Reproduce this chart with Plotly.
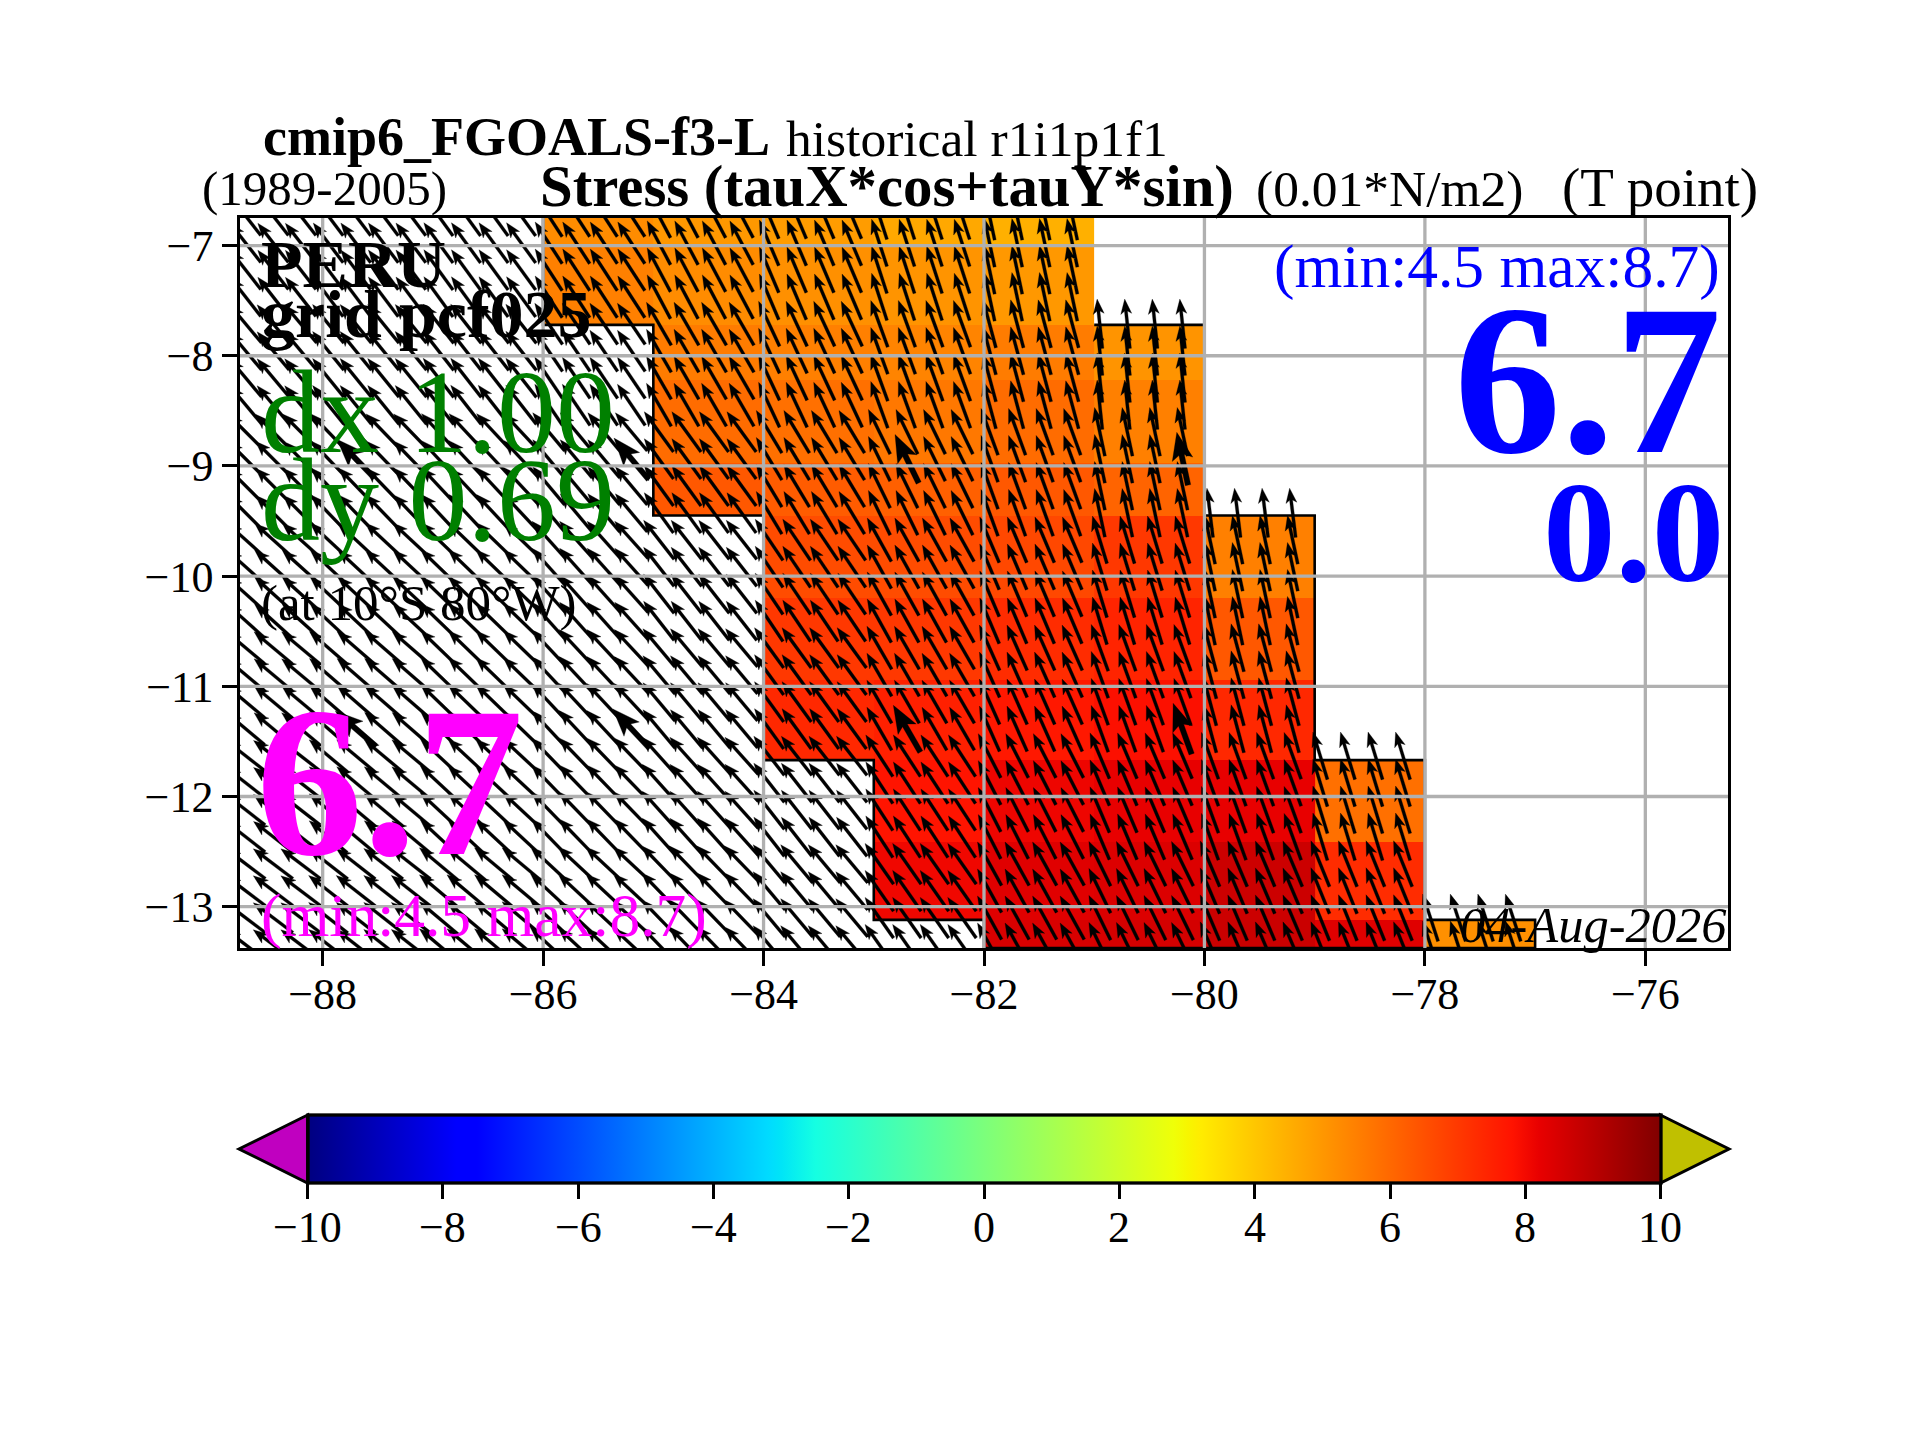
import numpy as np
import plotly.graph_objects as go

# ---------- data ----------
x_ticks = [-88, -86, -84, -82, -80, -78, -76]
y_ticks = [-13, -12, -11, -10, -9, -8, -7]
cbar_ticks = [-10, -8, -6, -4, -2, 0, 2, 4, 6, 8, 10]

cell_lon_edges = [-86, -85, -84, -83, -82, -81, -80, -79, -78, -77]
cell_lat_edges = [-6.75, -7.0, -7.72, -8.22, -8.97, -9.45, -10.20, -10.94, -11.67, -12.41, -13.12, -13.375]
N = None
# stress magnitude per cell, rows north -> south, columns west -> east
stress = [
    [5.24, 4.98, 4.90, 4.64, 4.47, N, N, N, N],
    [5.49, 5.24, 5.15, 5.07, 4.98, N, N, N, N],
    [N, 5.57, 5.49, 5.40, 5.57, 5.07, N, N, N],
    [N, 5.91, 5.83, 5.66, 5.91, 5.49, N, N, N],
    [N, 6.34, 6.25, 6.17, 6.34, 6.08, N, N, N],
    [N, N, 6.59, 6.59, 6.68, 7.01, 5.49, N, N],
    [N, N, 7.01, 7.01, 7.27, 7.44, 6.34, N, N],
    [N, N, 7.35, 7.52, 7.69, 7.86, 7.35, N, N],
    [N, N, N, 7.78, 8.10, 8.20, 8.20, 5.83, N],
    [N, N, N, 8.06, 8.34, 8.40, 8.68, 7.27, N],
    [N, N, N, N, 8.47, 8.55, 8.72, 8.34, 5.15],
]
# limits of the ocean cells per column (northern and southern)
col_north = [-6.75, -6.75, -6.75, -6.75, -6.75, -7.72, -9.45, -11.67, -13.12]
col_south = [-7.72, -9.45, -11.67, -13.12, -13.375, -13.375, -13.375, -13.375, -13.375]

# wind-stress direction, degrees west of north, by 1 degree block
angle_lon_centres = [-88.5, -87.5, -86.5, -85.5, -84.5, -83.5, -82.5, -81.5, -80.5, -79.5, -78.5, -77.5]
angle_lat_centres = [-7, -8, -9, -10, -11, -12, -13]
angle_deg = [
    [38, 37, 36, 33, 28, 23, 18, 12, 5, 5, 5, 5],
    [40, 39, 38, 34, 30, 25, 20, 15, 6, 5, 5, 5],
    [45, 44, 43, 40, 36, 31, 26, 20, 12, 7, 7, 7],
    [48, 47, 46, 42, 38, 34, 29, 23, 17, 12, 12, 12],
    [50, 49, 46, 43, 40, 36, 30, 24, 20, 15, 15, 15],
    [52, 50, 47, 44, 42, 38, 33, 27, 23, 20, 17, 17],
    [53, 52, 50, 47, 44, 40, 35, 29, 26, 23, 22, 18],
]
# sampling positions of the arrows (middle of each arrow)
arrow_lon_first, arrow_lon_step, arrow_lon_count = -88.95, 0.25, 48
arrow_lat_first, arrow_lat_step, arrow_lat_count = -6.485, -0.245, 30

title_bold = "cmip6_FGOALS-f3-L"
title_rest = "historical r1i1p1f1"

# ---------- figure geometry ----------
W, H = 1920, 1440
AX_L, AX_R, AX_T, AX_B = 240, 1728, 218, 948
LON_RANGE = [-88.75, -75.25]
LAT_RANGE = [-13.375, -6.75]
CB_L, CB_R, CB_T, CB_B = 307.6, 1660.4, 1115, 1183
FONT = "Liberation Serif"


def px(x):
    return x / W


def py(y):
    return 1 - y / H


# jet colour ramp
red = [(0, 0), (0.35, 0), (0.66, 1), (0.89, 1), (1, 0.5)]
green = [(0, 0), (0.125, 0), (0.375, 1), (0.64, 1), (0.91, 0), (1, 0)]
blue = [(0, 0.5), (0.11, 1), (0.34, 1), (0.65, 0), (1, 0)]
stops = sorted({p for seg in (red, green, blue) for p, _ in seg})


def chan(seg, p):
    return np.interp(p, [a for a, _ in seg], [b for _, b in seg])


jet = [[p, "rgb(%d,%d,%d)" % (round(255 * chan(red, p)), round(255 * chan(green, p)), round(255 * chan(blue, p)))]
       for p in stops]

fig = go.Figure()

fig.add_trace(go.Heatmap(
    x=cell_lon_edges, y=cell_lat_edges, z=stress, zmin=-10, zmax=10,
    colorscale=jet, hoverinfo="skip", xgap=0, ygap=0,
    colorbar=dict(
        orientation="h", x=px(CB_L), xanchor="left", y=py(CB_T), yanchor="top",
        xref="paper", yref="paper",
        len=CB_R - CB_L, lenmode="pixels", thickness=CB_B - CB_T, thicknessmode="pixels",
        xpad=0, ypad=0, outlinecolor="black", outlinewidth=3.3,
        tickmode="array", tickvals=cbar_ticks, ticks="outside", ticklen=14.6, tickwidth=2.6,
        tickcolor="black", showticklabels=False,
    ),
))

# coast outline from the column limits
ox, oy = [cell_lon_edges[0]], [col_north[0]]
for i, s in enumerate(col_south):
    ox += [cell_lon_edges[i], cell_lon_edges[i + 1]]
    oy += [s, s]
for i in range(len(col_north) - 1, 4, -1):
    ox += [cell_lon_edges[i + 1], cell_lon_edges[i]]
    oy += [col_north[i], col_north[i]]
fig.add_trace(go.Scatter(x=ox, y=oy, mode="lines", line=dict(color="black", width=2.6), hoverinfo="skip"))


# arrows
def arrow_polygon(mx, my, ang, length, shaft, head_w, head_l, notch):
    a = np.radians(ang)
    ux, uy = -np.sin(a), np.cos(a)       # along the arrow
    nx, ny = uy, -ux                     # across it
    pts = [(-length / 2, shaft / 2), (length / 2 - notch, shaft / 2), (length / 2 - head_l, head_w / 2),
           (length / 2, 0), (length / 2 - head_l, -head_w / 2), (length / 2 - notch, -shaft / 2),
           (-length / 2, -shaft / 2), (-length / 2, shaft / 2)]
    return [mx + p * ux + q * nx for p, q in pts], [my + p * uy + q * ny for p, q in pts]


def north_limit(lon):
    if lon < -81 or lon >= -77:
        return None if lon < -81 else -99
    i = int(np.floor(lon)) - cell_lon_edges[0]
    return col_north[i]


ax_, ay_, bx_, by_ = [], [], [], []
for i in range(arrow_lon_count):
    lon = arrow_lon_first + i * arrow_lon_step
    lim = north_limit(lon)
    ci = int(np.argmin(np.abs(np.array(angle_lon_centres) - lon)))
    for j in range(arrow_lat_count):
        lat = arrow_lat_first + j * arrow_lat_step
        if lim is not None and lat > lim + 0.1:
            continue
        rj = int(np.argmin(np.abs(np.array(angle_lat_centres) - lat)))
        ang = angle_deg[rj][ci]
        if (i % 10 == 5) and (j in (10, 20)):
            xs, ys = arrow_polygon(lon, lat, ang, 0.49, 0.05, 0.19, 0.25, 0.21)
            bx_ += xs + [None]
            by_ += ys + [None]
        else:
            xs, ys = arrow_polygon(lon, lat, ang, 0.45, 0.028, 0.1, 0.135, 0.11)
            ax_ += xs + [None]
            ay_ += ys + [None]
for xs, ys in ((ax_, ay_), (bx_, by_)):
    fig.add_trace(go.Scatter(x=xs, y=ys, mode="lines", fill="toself", fillcolor="black",
                             line=dict(color="black", width=0.3), hoverinfo="skip"))

# grid above the arrows
gx, gy = [], []
for t in x_ticks:
    gx += [t, t, None]
    gy += [LAT_RANGE[0], LAT_RANGE[1], None]
for t in y_ticks:
    gx += [LON_RANGE[0], LON_RANGE[1], None]
    gy += [t, t, None]
fig.add_trace(go.Scatter(x=gx, y=gy, mode="lines", line=dict(color="#b0b0b0", width=3.3), hoverinfo="skip"))

axis_common = dict(
    showgrid=False, zeroline=False, showline=True, linecolor="black", linewidth=3.3, mirror=True,
    ticks="outside", ticklen=14.6, tickwidth=3.3, tickcolor="black", tickmode="array",
    tickfont=dict(family=FONT, size=44, color="black"),
)
fig.update_xaxes(range=LON_RANGE, domain=[px(AX_L), px(AX_R)], tickvals=x_ticks, ticklabelstandoff=-10, **axis_common)
fig.update_yaxes(range=LAT_RANGE, domain=[py(AX_B), py(AX_T)], tickvals=y_ticks, **axis_common)


def label(text, x, base, size, color="black", anchor="left"):
    fig.add_annotation(
        text=text, xref="paper", yref="paper", x=px(x), y=py(base + 3 + 0.19 * size),
        xanchor=anchor, yanchor="bottom", showarrow=False, borderpad=0, borderwidth=0,
        font=dict(family=FONT, size=size, color=color),
    )


label("<b>%s</b>" % title_bold, 263, 154, 54)
label(title_rest, 786, 154, 51.5)
label("(1989-2005)", 202, 204, 49)
label("<b>Stress (tauX*cos+tauY*sin)</b>", 540, 205, 58.8)
label("(0.01*N/m2)", 1256, 204, 51.5)
label("(T point)", 1562, 205, 55)
label("<b>PERU</b>", 261, 286, 68)
label("<b>grid pcf025</b>", 261, 336, 68)
label("dx 1.00", 261, 453, 118, "green")
label("dy 0.69", 261, 541, 118, "green")
label("(at 10°S 80°W)", 261, 618, 51)
label("<b>6.7</b>", 256, 856, 214, "magenta")
label("(min:4.5 max:8.7)", 261, 935, 61.5, "magenta")
label("(min:4.5 max:8.7)", 1720, 286, 61.5, "blue", "right")
label("<b>6.7</b>", 1722, 454, 214, "blue", "right")
label("<b>0.0</b>", 1724, 581, 145, "blue", "right")
label("<i>04-Aug-2026</i>", 1726, 940, 50.5, "black", "right")

# colour-bar tick labels
for t in cbar_ticks:
    txt = ("\u2212%d" % -t) if t < 0 else str(t)
    label(txt, CB_L + (t + 10) / 20 * (CB_R - CB_L), 1241, 44, "black", "center")

# extension triangles of the colour bar
fig.add_shape(type="path", xref="paper", yref="paper",
              path="M %f,%f L %f,%f L %f,%f Z" % (px(CB_L), py(CB_T), px(239), py(1149), px(CB_L), py(CB_B)),
              fillcolor="#c000c0", line=dict(color="black", width=3))
fig.add_shape(type="path", xref="paper", yref="paper",
              path="M %f,%f L %f,%f L %f,%f Z" % (px(CB_R), py(CB_T), px(1729), py(1149), px(CB_R), py(CB_B)),
              fillcolor="#c0c000", line=dict(color="black", width=3))

fig.update_layout(
    width=W, height=H, autosize=False, margin=dict(l=0, r=0, t=0, b=0, pad=0),
    paper_bgcolor="white", plot_bgcolor="white", showlegend=False,
    font=dict(family=FONT),
)
fig.write_html("out.html", config={"displayModeBar": False}, post_script="document.body.style.margin='0';")
